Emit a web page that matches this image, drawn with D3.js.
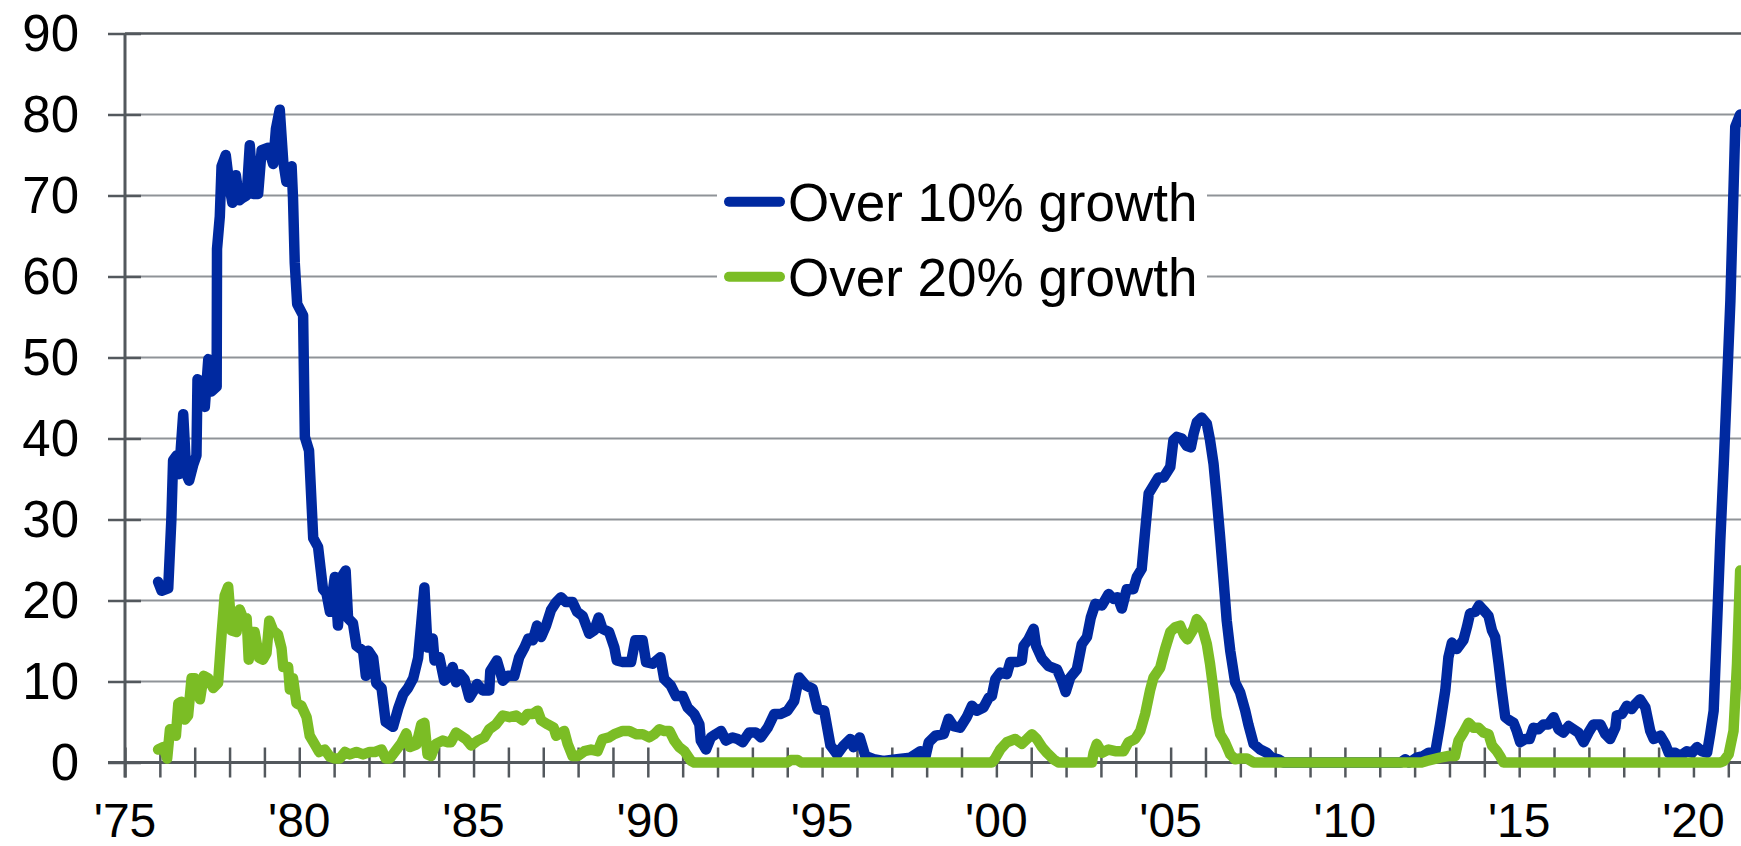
<!DOCTYPE html>
<html>
<head>
<meta charset="utf-8">
<script src="https://cdn.jsdelivr.net/npm/d3@7"></script>
<style>
  body { margin: 0; background: #fff; }
  svg { display: block; font-family: "Liberation Sans", Arial, sans-serif; }
</style>
</head>
<body>
<svg id="graph" width="1741" height="846"></svg>
<script>
// share of series growing faster than 10% / 20% (pairs: decimal year, value)
var over10 = [
  [1975.95,22.3],[1976.05,21.2],[1976.24,21.5],[1976.33,30],[1976.38,37.3],[1976.48,37.9],[1976.55,35.6],[1976.67,43],
  [1976.76,35.6],[1976.84,34.8],[1976.96,36.8],[1977.05,37.9],[1977.08,47.3],[1977.2,47],[1977.29,43.9],[1977.39,49.8],
  [1977.48,45.8],[1977.63,46.4],[1977.64,63.4],[1977.72,67.4],[1977.77,73.6],[1977.89,75],[1978.01,70.8],[1978.08,69.1],
  [1978.18,72.5],[1978.28,69.4],[1978.37,69.7],[1978.49,70],[1978.58,76.2],[1978.68,70.2],[1978.82,70.2],[1978.92,75.6],
  [1979.11,75.9],[1979.25,73.9],[1979.33,78.2],[1979.44,80.6],[1979.54,74.2],[1979.63,71.7],[1979.78,73.6],[1979.82,69.7],
  [1979.87,61.7],[1979.94,56.6],[1980.11,55.2],[1980.16,40.2],[1980.28,38.5],[1980.4,27.7],[1980.54,26.6],[1980.68,21.4],
  [1980.78,20.9],[1980.88,18.6],[1981.02,22.9],[1981.11,16.9],[1981.21,22.9],[1981.33,23.7],[1981.4,17.8],[1981.54,17.2],
  [1981.64,14.4],[1981.83,13.8],[1981.91,10.7],[1981.98,13.8],[1982.12,12.9],[1982.21,9.8],[1982.36,9.2],[1982.48,5],
  [1982.69,4.4],[1982.84,6.7],[1982.98,8.4],[1983.12,9.2],[1983.27,10.4],[1983.41,12.9],[1983.49,16.7],[1983.59,21.6],
  [1983.68,14.2],[1983.83,15.3],[1983.88,12.6],[1984.02,13],[1984.16,10.1],[1984.31,10.7],[1984.4,11.8],[1984.5,9.9],
  [1984.62,10.9],[1984.74,10.3],[1984.88,8],[1984.98,8.7],[1985.1,9.7],[1985.26,8.9],[1985.45,8.9],[1985.48,11.3],
  [1985.67,12.6],[1985.84,10.1],[1985.98,10.7],[1986.17,10.7],[1986.31,13],[1986.46,14.2],[1986.57,15.3],[1986.7,15.1],
  [1986.82,16.9],[1986.94,15.5],[1987.08,16.9],[1987.22,18.8],[1987.37,19.8],[1987.51,20.4],[1987.65,19.8],[1987.84,19.8],
  [1987.97,18.6],[1988.13,18.1],[1988.32,15.9],[1988.46,16.3],[1988.59,17.9],[1988.7,16.5],[1988.89,16.1],[1989.04,14.2],
  [1989.11,12.6],[1989.28,12.4],[1989.52,12.4],[1989.64,15.1],[1989.85,15.1],[1989.95,12.4],[1990.14,12.2],[1990.36,13],
  [1990.47,10.3],[1990.66,9.5],[1990.81,8.2],[1991,8.2],[1991.14,6.8],[1991.33,6],[1991.48,4.7],[1991.52,2.7],
  [1991.67,1.6],[1991.81,3.1],[1991.95,3.5],[1992.1,3.9],[1992.24,2.7],[1992.43,3.1],[1992.58,2.9],[1992.72,2.5],
  [1992.91,3.7],[1993.1,3.7],[1993.24,3.1],[1993.44,4.3],[1993.63,6],[1993.82,6],[1994.01,6.4],[1994.2,7.6],
  [1994.34,10.5],[1994.54,9.5],[1994.73,9.1],[1994.87,6.6],[1995.06,6.4],[1995.24,2.1],[1995.43,1],[1995.62,2.1],
  [1995.81,2.9],[1995.9,1.9],[1996.08,3.1],[1996.24,0.8],[1996.48,0.4],[1996.76,0.2],[1997.15,0.4],[1997.53,0.6],
  [1997.82,1.4],[1997.96,0.6],[1998.06,2.5],[1998.25,3.3],[1998.49,3.5],[1998.63,5.4],[1998.77,4.5],[1998.96,4.3],
  [1999.15,5.6],[1999.3,7],[1999.44,6.4],[1999.63,6.8],[1999.78,8],[1999.87,8.2],[1999.97,10.3],[2000.11,11.1],
  [2000.3,10.9],[2000.4,12.4],[2000.59,12.4],[2000.73,12.6],[2000.78,14.4],[2000.92,15.2],[2001.07,16.5],[2001.14,14.4],
  [2001.31,12.8],[2001.5,11.9],[2001.74,11.5],[2001.88,10.1],[2001.99,8.7],[2002.12,10.5],[2002.31,11.5],[2002.45,14.6],
  [2002.6,15.5],[2002.71,17.9],[2002.84,19.6],[2003.03,19.4],[2003.22,20.8],[2003.36,20.2],[2003.48,20.4],[2003.6,19],
  [2003.74,21.4],[2003.93,21.4],[2004.03,22.9],[2004.17,23.9],[2004.27,28.6],[2004.37,33.2],[2004.51,34.2],[2004.65,35.2],
  [2004.8,35.2],[2004.99,36.5],[2005.08,39.8],[2005.18,40.2],[2005.32,40],[2005.46,39.1],[2005.58,38.9],[2005.66,40.6],
  [2005.75,42],[2005.89,42.6],[2006.04,41.8],[2006.13,39.8],[2006.23,36.9],[2006.32,32.8],[2006.42,27.8],[2006.52,22.5],
  [2006.61,17.5],[2006.71,13.8],[2006.85,9.9],[2006.99,8.7],[2007.14,6.4],[2007.23,4.7],[2007.38,2.3],[2007.57,1.6],
  [2007.76,1.2],[2007.9,0.6],[2008.09,0.4],[2008.24,0],[2011.6,0],[2011.73,0.4],[2011.85,0],[2012.06,0.6],
  [2012.25,0.8],[2012.4,1.2],[2012.59,1.2],[2012.73,4.7],[2012.88,8.9],[2012.97,13],[2013.07,14.8],[2013.21,14],
  [2013.4,15.1],[2013.5,16.7],[2013.59,18.4],[2013.74,18.6],[2013.85,19.4],[2013.98,18.8],[2014.12,18.1],[2014.22,16.3],
  [2014.31,15.5],[2014.41,12.2],[2014.5,8.9],[2014.6,5.6],[2014.72,5.2],[2014.84,4.9],[2014.93,3.9],[2015.03,2.5],
  [2015.17,2.9],[2015.3,2.9],[2015.41,4.3],[2015.55,4.1],[2015.7,4.7],[2015.84,4.7],[2015.99,5.6],[2016.13,4.1],
  [2016.27,3.7],[2016.42,4.5],[2016.56,4.1],[2016.7,3.7],[2016.85,2.5],[2016.99,3.7],[2017.13,4.7],[2017.33,4.7],
  [2017.47,3.5],[2017.61,2.9],[2017.76,4.3],[2017.8,5.8],[2017.95,6],[2018.09,7],[2018.23,6.6],[2018.33,7.2],
  [2018.47,7.8],[2018.62,6.8],[2018.76,3.9],[2018.86,2.9],[2019.05,3.3],[2019.19,2.3],[2019.29,1.2],[2019.48,1.2],
  [2019.62,0.8],[2019.81,1.4],[2019.96,1.2],[2020.1,1.9],[2020.24,1.4],[2020.39,1.2],[2020.48,3.5],[2020.58,6.4],
  [2020.67,16.3],[2020.77,27.4],[2020.87,36.9],[2021.06,57],[2021.2,78.5],[2021.34,80]
];

var over20 = [
  [1975.95,1.6],[1976.1,1.9],[1976.21,0.5],[1976.29,4.1],[1976.46,3.3],[1976.53,7.3],[1976.62,7.5],[1976.72,5.3],
  [1976.81,5.8],[1976.91,10.4],[1977.0,10.4],[1977.15,7.8],[1977.26,10.7],[1977.39,10.4],[1977.53,9.2],[1977.67,9.8],
  [1977.77,15.8],[1977.86,20.6],[1977.96,21.7],[1978.06,16.3],[1978.2,16.1],[1978.29,18.9],[1978.39,17.8],[1978.49,17.8],
  [1978.55,12.7],[1978.66,16.1],[1978.72,16.1],[1978.85,12.9],[1978.96,12.7],[1979.06,13.5],[1979.14,17.5],[1979.25,16.3],
  [1979.39,15.8],[1979.49,14.1],[1979.54,11.8],[1979.68,11.8],[1979.73,9],[1979.82,10.4],[1979.92,7.3],[1980.06,7],
  [1980.21,5.6],[1980.3,3.3],[1980.45,2.2],[1980.57,1.3],[1980.73,1.6],[1980.88,0.7],[1981.02,0.5],[1981.16,0.5],
  [1981.31,1.3],[1981.45,1],[1981.64,1.3],[1981.83,1],[1982.02,1.3],[1982.17,1.3],[1982.36,1.6],[1982.48,0.5],
  [1982.6,0.5],[1982.79,1.6],[1982.93,2.4],[1983.07,3.6],[1983.17,1.9],[1983.36,2.2],[1983.5,4.7],[1983.59,4.9],
  [1983.68,1],[1983.78,0.8],[1983.92,2.3],[1984.11,2.7],[1984.26,2.5],[1984.35,2.5],[1984.5,3.7],[1984.64,3.3],
  [1984.78,2.9],[1984.93,2.1],[1985.12,2.7],[1985.31,3.1],[1985.45,4.1],[1985.64,4.7],[1985.84,5.8],[1986.03,5.6],
  [1986.22,5.8],[1986.41,5.2],[1986.55,6],[1986.7,6],[1986.84,6.4],[1986.94,5.2],[1987.13,4.7],[1987.3,4.3],
  [1987.37,3.3],[1987.6,3.9],[1987.7,2.3],[1987.84,0.8],[1987.99,0.8],[1988.18,1.4],[1988.37,1.6],[1988.56,1.4],
  [1988.7,2.9],[1988.89,3.1],[1989.04,3.5],[1989.28,3.9],[1989.47,3.9],[1989.66,3.5],[1989.85,3.5],[1990.04,3.1],
  [1990.19,3.5],[1990.33,4.1],[1990.47,3.9],[1990.62,3.9],[1990.76,2.7],[1990.9,1.9],[1991.05,1.4],[1991.24,0.2],
  [1991.33,0],[1994.0,0],[1994.1,0.3],[1994.3,0.3],[1994.4,0],[1999.87,0],[1999.95,0.4],[2000.11,1.6],
  [2000.3,2.5],[2000.54,2.9],[2000.73,2.3],[2000.88,2.9],[2001.02,3.5],[2001.16,2.9],[2001.31,1.9],[2001.45,1.2],
  [2001.64,0.4],[2001.78,0],[2002.74,0],[2002.79,1.2],[2002.88,2.3],[2003.03,1.2],[2003.22,1.6],[2003.41,1.4],
  [2003.65,1.4],[2003.79,2.5],[2003.98,2.9],[2004.13,3.9],[2004.27,6],[2004.41,8.9],[2004.51,10.5],[2004.7,11.7],
  [2004.84,14],[2004.99,16.1],[2005.13,16.7],[2005.27,16.9],[2005.39,15.7],[2005.48,15.2],[2005.66,16.5],[2005.75,17.7],
  [2005.89,16.9],[2006.04,14.6],[2006.13,12.2],[2006.23,8.9],[2006.32,5.6],[2006.42,3.5],[2006.56,2.5],[2006.71,1],
  [2006.85,0.4],[2006.99,0.5],[2007.19,0.5],[2007.38,0],[2012.2,0],[2012.35,0.2],[2012.73,0.6],[2012.97,0.8],
  [2013.16,0.8],[2013.26,2.7],[2013.4,3.7],[2013.55,4.9],[2013.69,4.3],[2013.83,4.3],[2013.98,3.7],[2014.12,3.5],
  [2014.22,2.1],[2014.36,1.4],[2014.45,0.8],[2014.55,0],[2020.77,0],[2020.87,0.2],[2021.01,1],[2021.15,3.9],
  [2021.25,12.2],[2021.34,23.7]
];

var seriesNames = ["Over 10% growth", "Over 20% growth"];
var seriesColors = ["#0029a0", "#7bbd25"];
var yTicks = [0, 10, 20, 30, 40, 50, 60, 70, 80, 90];
var labelYears = [1975, 1980, 1985, 1990, 1995, 2000, 2005, 2010, 2015, 2020];
var labelText = ["'75", "'80", "'85", "'90", "'95", "'00", "'05", "'10", "'15", "'20"];

function creaGrafica() {
    var svg = d3.select("#graph");
    var width = +svg.attr("width");

    var x = d3.scaleLinear().domain([1975, 2021]).range([125, 1728.3]);
    var y = d3.scaleLinear().domain([0, 90]).range([762.5, 33.5]);

    var axisCol = "#53585d", gridCol = "#8f9398";

    // gridlines (the top one is the plot border, darker)
    svg.append("g").selectAll("line")
        .data(yTicks.filter(d => d > 0))
        .enter().append("line")
        .attr("x1", x(1975)).attr("x2", width)
        .attr("y1", d => y(d)).attr("y2", d => y(d))
        .attr("stroke", d => d === 90 ? axisCol : gridCol)
        .attr("stroke-width", d => d === 90 ? 2.5 : 2);

    // eje Y, ticks crossing the axis
    var yAxis = svg.append("g")
        .attr("transform", "translate(" + x(1975) + ",0)")
        .call(d3.axisLeft(y).tickValues(yTicks).tickSize(16).tickFormat(""));
    yAxis.select(".domain").remove();
    yAxis.selectAll(".tick line")
        .attr("x1", -17).attr("x2", 16)
        .attr("stroke", axisCol).attr("stroke-width", 2.5);
    svg.append("line")
        .attr("x1", x(1975)).attr("x2", x(1975))
        .attr("y1", y(90)).attr("y2", y(0) + 15)
        .attr("stroke", axisCol).attr("stroke-width", 3);

    svg.append("g").selectAll("text")
        .data(yTicks)
        .enter().append("text")
        .attr("x", 79)
        .attr("y", d => y(d) + 17.5)
        .attr("text-anchor", "end")
        .attr("font-size", "51px")
        .attr("fill", "#000")
        .text(d => d);

    // eje X: one tick per year
    var xAxis = svg.append("g")
        .attr("transform", "translate(0," + y(0) + ")")
        .call(d3.axisBottom(x).tickValues(d3.range(1975, 2022)).tickSize(15).tickFormat(""));
    xAxis.select(".domain").remove();
    xAxis.selectAll(".tick line")
        .attr("y1", -15).attr("y2", 15)
        .attr("stroke", axisCol).attr("stroke-width", 2.5);
    svg.append("line")
        .attr("x1", x(1975) - 17).attr("x2", width)
        .attr("y1", y(0)).attr("y2", y(0))
        .attr("stroke", axisCol).attr("stroke-width", 3);

    svg.append("g").selectAll("text")
        .data(labelYears)
        .enter().append("text")
        .attr("x", d => x(d))
        .attr("y", 837)
        .attr("text-anchor", "middle")
        .attr("font-size", "48px")
        .attr("fill", "#000")
        .text((d, i) => labelText[i]);

    // legend box covers the gridlines
    svg.append("rect")
        .attr("x", 717).attr("y", 150)
        .attr("width", 490).attr("height", 160)
        .attr("fill", "#fff");

    var line = d3.line()
        .x(d => x(d[0]))
        .y(d => y(d[1]));

    [over10, over20].forEach(function (serie, i) {
        svg.append("path")
            .datum(serie)
            .attr("d", line)
            .attr("fill", "none")
            .attr("stroke", seriesColors[i])
            .attr("stroke-width", 10.5)
            .attr("stroke-linejoin", "round")
            .attr("stroke-linecap", "round");
    });

    var leg = svg.append("g").selectAll("g")
        .data(seriesNames)
        .enter().append("g")
        .attr("transform", (d, i) => "translate(0," + (201.7 + i * 75) + ")");
    leg.append("line")
        .attr("x1", 729).attr("x2", 780)
        .attr("y1", 0).attr("y2", 0)
        .attr("stroke", (d, i) => seriesColors[i])
        .attr("stroke-width", 10)
        .attr("stroke-linecap", "round");
    leg.append("text")
        .attr("x", 788)
        .attr("y", 19)
        .attr("font-size", "53px")
        .attr("fill", "#000")
        .text(d => d);
}

creaGrafica();
</script>
</body>
</html>
